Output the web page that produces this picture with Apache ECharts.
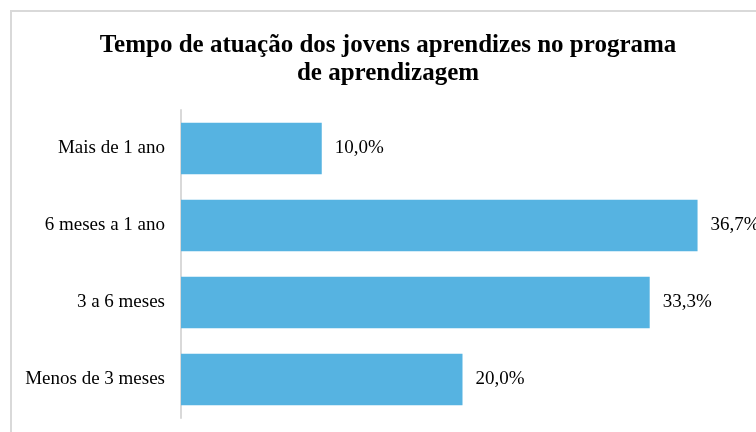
<!DOCTYPE html>
<html>
<head>
<meta charset="utf-8">
<script src="https://cdn.jsdelivr.net/npm/echarts@6/dist/echarts.min.js"></script>
<style>
  html, body { margin: 0; padding: 0; background: #fff; }
  #myChart { width: 756px; height: 432px; }
</style>
</head>
<body>
<div id="myChart"></div>
<script>
// dados
var categorias = ['Menos de 3 meses', '3 a 6 meses', '6 meses a 1 ano', 'Mais de 1 ano'];
var valores = [20.0, 33.3, 36.7, 10.0];

var myChart = echarts.init(document.getElementById('myChart'));
var serif = '"Liberation Serif", "Times New Roman", serif';

var option = {
    animation: false,
    title: {
        text: 'Tempo de atuação dos jovens aprendizes no programa\nde aprendizagem',
        left: 383,
        top: 27,
        textAlign: 'center',
        textStyle: {
            fontFamily: serif,
            fontWeight: 'bold',
            fontSize: 25,
            lineHeight: 28,
            color: '#000'
        }
    },
    graphic: [{
        type: 'rect',
        shape: { x: 11, y: 11, width: 760, height: 440 },
        style: { fill: 'none', stroke: '#d9d9d9', lineWidth: 2 },
        silent: true
    }],
    grid: {
        left: 181,
        right: 12,
        top: 110,
        bottom: 14
    },
    xAxis: {
        type: 'value',
        min: 0,
        max: 40,
        show: false
    },
    yAxis: {
        type: 'category',
        data: categorias,
        axisLine: { show: true, lineStyle: { color: '#d9d9d9', width: 2 } },
        axisTick: { show: false },
        axisLabel: {
            margin: 16,
            fontFamily: serif,
            fontSize: 19,
            color: '#000'
        }
    },
    series: [{
        type: 'bar',
        data: valores,
        barCategoryGap: '33%',
        itemStyle: { color: '#56B3E1' },
        label: {
            show: true,
            position: 'right',
            distance: 13,
            fontFamily: serif,
            fontSize: 19,
            color: '#000',
            formatter: function (p) {
                return p.value.toFixed(1).replace('.', ',') + '%';
            }
        }
    }]
};

myChart.setOption(option);
window.onresize = myChart.resize;
</script>
</body>
</html>
